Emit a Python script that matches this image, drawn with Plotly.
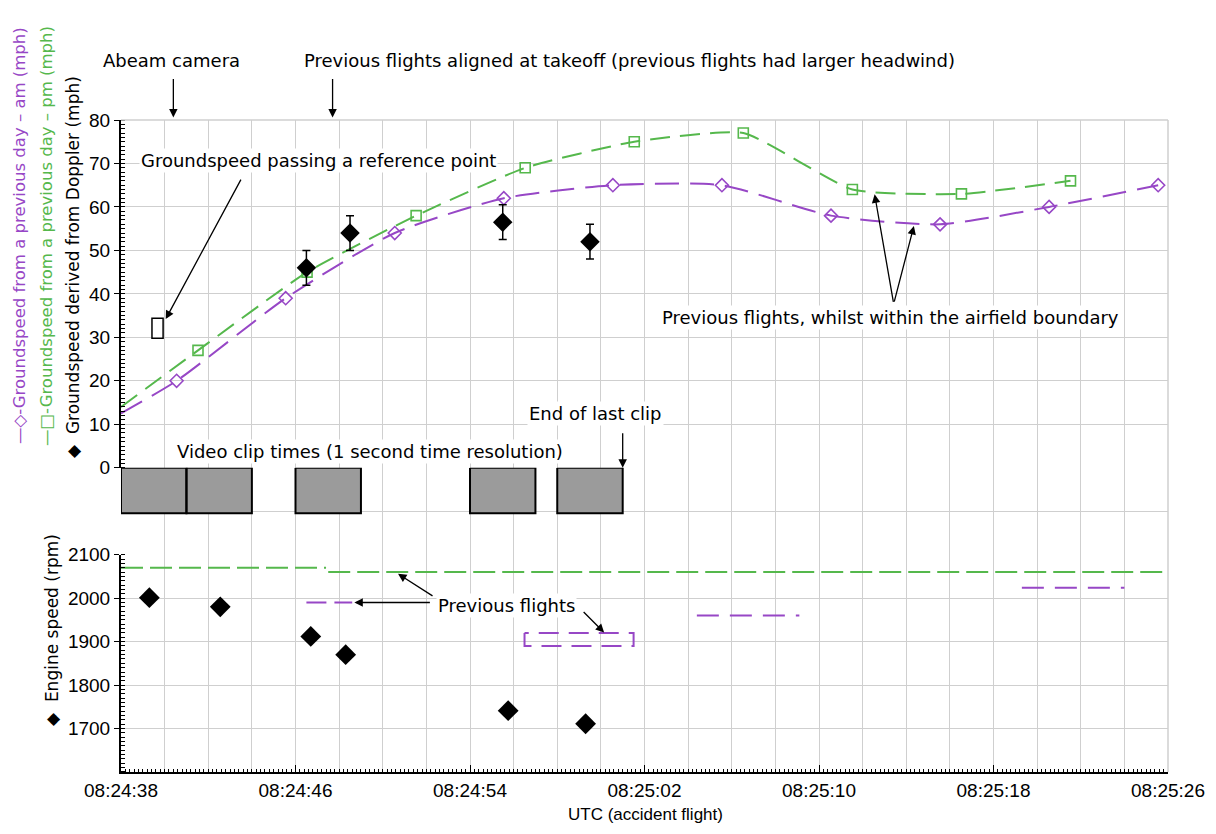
import plotly.graph_objects as go

DAY = "2000-01-01 "

# ---------------- data ----------------
am_times = ["08:24:40.55", "08:24:45.55", "08:24:50.55", "08:24:55.55", "08:25:00.55",
            "08:25:05.55", "08:25:10.55", "08:25:15.55", "08:25:20.55", "08:25:25.55"]
am_speed = [20, 39, 54, 62, 65, 65, 58, 56, 60, 65]
am_line_start = ("08:24:38", 12.5)

pm_times = ["08:24:41.53", "08:24:46.53", "08:24:51.53", "08:24:56.53", "08:25:01.53",
            "08:25:06.53", "08:25:11.53", "08:25:16.53", "08:25:21.53"]
pm_speed = [27, 45, 58, 69, 75, 77, 64, 63, 66]
pm_line_start = ("08:24:38", 14)

doppler_times = ["08:24:46.5", "08:24:48.5", "08:24:55.5", "08:24:59.5"]
doppler_speed = [46, 54, 56.5, 52]
doppler_err = [4, 4, 4, 4]

ref_box_times = ["08:24:39.42", "08:24:39.93"]
ref_box_speed = [29.8, 34.4]

clip_start = ["08:24:38", "08:24:41", "08:24:46", "08:24:54", "08:24:58"]
clip_end = ["08:24:41", "08:24:44", "08:24:49", "08:24:57", "08:25:01"]
clip_depth = -10.5

engine_times = ["08:24:39.3", "08:24:42.55", "08:24:46.7", "08:24:48.3", "08:24:55.75", "08:24:59.3"]
engine_rpm = [2001, 1980, 1912, 1870, 1741, 1711]

pm_rpm_seg1_times = ["08:24:38", "08:24:47.4"]
pm_rpm_seg1 = [2070, 2070]
pm_rpm_seg2_times = ["08:24:47.5", "08:25:26"]
pm_rpm_seg2 = [2060, 2060]

am_rpm_seg1_times = ["08:24:46.5", "08:24:48.6"]
am_rpm_seg1 = [1990, 1990]
am_rpm_box_times = ["08:24:56.5", "08:24:56.5", "08:25:01.5", "08:25:01.5", "08:24:56.5"]
am_rpm_box = [1920, 1890, 1890, 1920, 1920]
am_rpm_seg3_times = ["08:25:04.4", "08:25:09.1"]
am_rpm_seg3 = [1960, 1960]
am_rpm_seg4_times = ["08:25:19.3", "08:25:24.0"]
am_rpm_seg4 = [2024, 2024]

x_start, x_end = "08:24:38", "08:25:26"
speed_ticks = [0, 10, 20, 30, 40, 50, 60, 70, 80]
rpm_ticks = [1700, 1800, 1900, 2000, 2100]

# ---------------- styling ----------------
PURPLE = "#9747c6"
GREEN = "#55b84c"
GRID = "#cfcfcf"
TICKFONT = dict(family="Liberation Sans", size=19, color="black")
ANNFONT = dict(family="DejaVu Sans", size=18, color="black")
TITLEFONT = dict(family="DejaVu Sans", size=17, color="black")

def T(lst):
    return [DAY + t for t in lst]

# page offset of the figure (default body margin)
OFF = 8
PLOT_L, PLOT_T, PW, PH = 121, 120, 1047, 652
W, H = 1216 - 2 * OFF, 834 - 2 * OFF
L, TOP = PLOT_L - OFF, PLOT_T - OFF
R, BOT = W - L - PW, H - TOP - PH

def px(x):
    return (x - PLOT_L) / PW

def py(y):
    return (PLOT_T + PH - y) / PH

fig = go.Figure()

# groundspeed lines (previous day)
fig.add_trace(go.Scatter(x=T([am_line_start[0]] + am_times), y=[am_line_start[1]] + am_speed,
                         mode="lines", line=dict(color=PURPLE, width=2, dash="24px,11px", shape="spline", smoothing=0.6),
                         xaxis="x", yaxis="y", hoverinfo="skip"))
fig.add_trace(go.Scatter(x=T(am_times), y=am_speed, mode="markers",
                         marker=dict(symbol="diamond-open", size=10, color=PURPLE, line=dict(width=1.6)),
                         xaxis="x", yaxis="y"))
fig.add_trace(go.Scatter(x=T([pm_line_start[0]] + pm_times), y=[pm_line_start[1]] + pm_speed,
                         mode="lines", line=dict(color=GREEN, width=2, dash="20px,10px", shape="spline", smoothing=0.5),
                         xaxis="x", yaxis="y", hoverinfo="skip"))
fig.add_trace(go.Scatter(x=T(pm_times), y=pm_speed, mode="markers",
                         marker=dict(symbol="square-open", size=10, color=GREEN, line=dict(width=1.6)),
                         xaxis="x", yaxis="y"))
# doppler
fig.add_trace(go.Scatter(x=T(doppler_times), y=doppler_speed, mode="markers",
                         marker=dict(symbol="diamond", size=15, color="black"),
                         error_y=dict(type="data", array=doppler_err, color="black", thickness=1.5, width=4),
                         xaxis="x", yaxis="y"))

# video clips
cx, cy = [], []
for s, e in zip(clip_start, clip_end):
    cx += [DAY + s, DAY + e, DAY + e, DAY + s, DAY + s, None]
    cy += [0, 0, clip_depth, clip_depth, 0, None]
fig.add_trace(go.Scatter(x=cx, y=cy, mode="lines", fill="toself", fillcolor="#9b9b9b",
                         line=dict(color="black", width=2), xaxis="x", yaxis="y3", hoverinfo="skip"))

# engine speed
for tx, ty, col, dash in [
    (pm_rpm_seg1_times, pm_rpm_seg1, GREEN, "22px,7px"),
    (pm_rpm_seg2_times, pm_rpm_seg2, GREEN, "22px,7px"),
    (am_rpm_seg1_times, am_rpm_seg1, PURPLE, "20px,8px"),
    (am_rpm_box_times, am_rpm_box, PURPLE, "20px,10px"),
    (am_rpm_seg3_times, am_rpm_seg3, PURPLE, "22px,11px"),
    (am_rpm_seg4_times, am_rpm_seg4, PURPLE, "22px,11px"),
]:
    fig.add_trace(go.Scatter(x=T(tx), y=ty, mode="lines", line=dict(color=col, width=2, dash=dash),
                             xaxis="x", yaxis="y2", hoverinfo="skip"))
fig.add_trace(go.Scatter(x=T(engine_times), y=engine_rpm, mode="markers",
                         marker=dict(symbol="diamond", size=16, color="black"),
                         xaxis="x", yaxis="y2"))
# carrier for the fine-tick overlay axis
fig.add_trace(go.Scatter(x=[], y=[], xaxis="x2", yaxis="y2", showlegend=False))

# reference point box
fig.add_shape(type="rect", xref="x", yref="y", x0=DAY + ref_box_times[0], x1=DAY + ref_box_times[1],
              y0=ref_box_speed[0], y1=ref_box_speed[1], line=dict(color="black", width=1.5),
              fillcolor="white")

# frame (top / right in grid colour)
fig.add_shape(type="line", xref="paper", yref="paper", x0=0, x1=1, y0=1, y1=1, line=dict(color=GRID, width=1.5))
fig.add_shape(type="line", xref="paper", yref="paper", x0=1, x1=1, y0=0, y1=1, line=dict(color=GRID, width=1.5))

d_engine = [0, 5 / 15]
d_clip = [5 / 15, 7 / 15]
d_speed = [7 / 15, 1]

fig.update_layout(
    width=W, height=H, margin=dict(l=L, r=R, t=TOP, b=BOT, autoexpand=False),
    paper_bgcolor="white", plot_bgcolor="white", showlegend=False,
    xaxis=dict(type="date", range=[DAY + x_start, DAY + x_end], anchor="y2",
               tick0=DAY + x_start, dtick=8000, tickformat="%H:%M:%S",
               showgrid=True, gridcolor=GRID, gridwidth=1.3,
               minor=dict(dtick=2000, tick0=DAY + x_start, showgrid=True, gridcolor=GRID, gridwidth=1.3, ticks=""),
               showline=True, linecolor="black", linewidth=2,
               ticks="inside", ticklen=7, tickcolor="black", tickwidth=1.3,
               tickfont=TICKFONT, zeroline=False),
    xaxis2=dict(type="date", overlaying="x", matches="x", anchor="y2", side="bottom",
                tick0=DAY + x_start, dtick=200, ticks="inside", ticklen=3, tickcolor="black", tickwidth=1,
                showticklabels=False, showgrid=False, showline=False, zeroline=False),
    yaxis=dict(domain=d_speed, range=[0, 80], tickvals=speed_ticks, anchor="x",
               showgrid=True, gridcolor=GRID, gridwidth=1.3,
               showline=True, linecolor="black", linewidth=2,
               ticks="outside", ticklen=5, tickcolor="black", tickwidth=1.3,
               minor=dict(dtick=1, ticks="inside", ticklen=4, tickcolor="black", tickwidth=1, showgrid=False),
               tickfont=TICKFONT, zeroline=False),
    yaxis3=dict(domain=d_clip, range=[-20, 0], tickvals=[-20, -10, 0], anchor="x",
                showgrid=True, gridcolor=GRID, gridwidth=1.3, showline=False,
                showticklabels=False, ticks="", zeroline=False),
    yaxis2=dict(domain=d_engine, range=[1600, 2100], tickvals=rpm_ticks, anchor="x",
                showgrid=True, gridcolor=GRID, gridwidth=1.3,
                showline=True, linecolor="black", linewidth=2,
                ticks="outside", ticklen=5, tickcolor="black", tickwidth=1.3,
                minor=dict(dtick=10, ticks="inside", ticklen=4, tickcolor="black", tickwidth=1, showgrid=False),
                tickfont=TICKFONT, zeroline=False),
)

C = dict(xanchor="center", yanchor="middle", showarrow=False)
ann = []
# axis titles
ann.append(dict(C, text="UTC (accident flight)", xref="paper", yref="paper", x=px(645), y=py(814),
                font=dict(family="Liberation Sans", size=17, color="black")))
ann.append(dict(C, text="—◇-Groundspeed from a previous day – am (mph)", xref="paper", yref="paper",
                x=px(19), y=py(236), textangle=-90,
                font=dict(family="DejaVu Sans", size=16.5, color=PURPLE)))
ann.append(dict(C, text="—□-Groundspeed from a previous day – pm (mph)", xref="paper", yref="paper",
                x=px(46), y=py(236), textangle=-90,
                font=dict(family="DejaVu Sans", size=16.5, color=GREEN)))
ann.append(dict(C, text="◆  Groundspeed derived from Doppler (mph)", xref="paper", yref="paper",
                x=px(73), y=py(267), textangle=-90, font=TITLEFONT))
ann.append(dict(C, text="◆  Engine speed (rpm)", xref="paper", yref="paper",
                x=px(52), y=py(630), textangle=-90, font=TITLEFONT))

# top notes
ann.append(dict(C, text="Abeam camera", xref="paper", yref="paper", x=px(171), y=py(61), font=ANNFONT))
ann.append(dict(C, text="Previous flights aligned at takeoff (previous flights had larger headwind)",
                xref="paper", yref="paper", x=px(629), y=py(61), font=ANNFONT))
arrow = dict(showarrow=True, arrowhead=2, arrowsize=1.3, arrowwidth=1.3, arrowcolor="black", text="",
             axref="pixel", ayref="pixel")
ann.append(dict(arrow, xref="x", yref="paper", x=DAY + "08:24:40.4", y=1.004, ax=0, ay=-40))
ann.append(dict(arrow, xref="x", yref="paper", x=DAY + "08:24:47.7", y=1.004, ax=0, ay=-40))

# in-plot notes
ann.append(dict(C, text="Groundspeed passing a reference point", xref="paper", yref="paper",
                x=px(318), y=py(160), font=ANNFONT, bgcolor="white"))
ann.append(dict(arrow, xref="x", yref="y", x=DAY + "08:24:40.05", y=34.2, ax=76, ay=-141))

ann.append(dict(C, text="Previous flights, whilst within the airfield boundary", xref="paper", yref="paper",
                x=px(890), y=py(317), font=ANNFONT, bgcolor="white"))
ann.append(dict(arrow, xref="x", yref="y", x=DAY + "08:25:12.55", y=62.9, ax=19, ay=109))
ann.append(dict(arrow, xref="x", yref="y", x=DAY + "08:25:14.35", y=55.6, ax=-20, ay=77))

ann.append(dict(C, text="Video clip times (1 second time resolution)", xref="paper", yref="paper",
                x=px(370), y=py(451), font=ANNFONT, bgcolor="white"))
ann.append(dict(C, text="End of last clip", xref="paper", yref="paper",
                x=px(595), y=py(413), font=ANNFONT, bgcolor="white"))
ann.append(dict(arrow, xref="x", yref="y3", x=DAY + clip_end[-1], y=0, ax=0, ay=-36))

ann.append(dict(C, text="Previous flights", xref="paper", yref="paper",
                x=px(506), y=py(605), font=ANNFONT, bgcolor="white"))
ann.append(dict(arrow, xref="x", yref="y2", x=DAY + "08:24:48.7", y=1990, ax=77, ay=0))
ann.append(dict(arrow, xref="x", yref="y2", x=DAY + "08:24:50.7", y=2056, ax=36, ay=23))
ann.append(dict(arrow, xref="x", yref="y2", x=DAY + "08:25:00.15", y=1921, ax=-22, ay=-22))

fig.update_layout(annotations=ann)
fig.write_html("out.html")
